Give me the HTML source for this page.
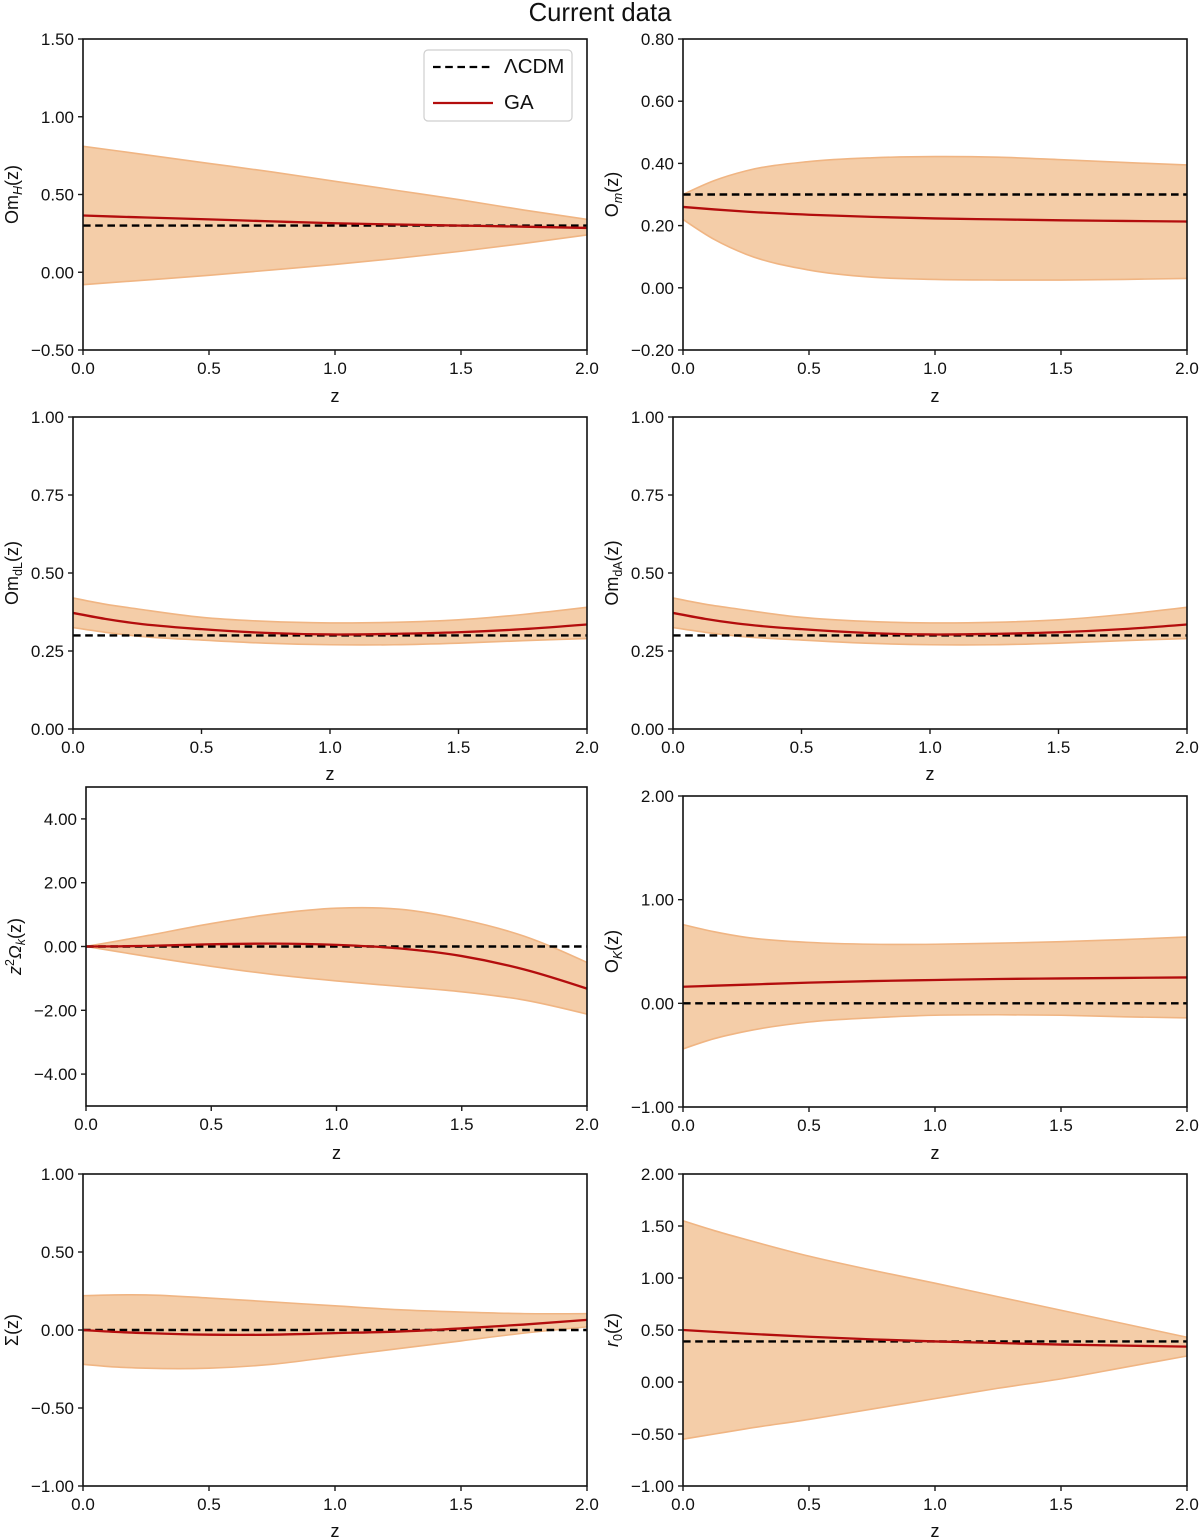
<!DOCTYPE html>
<html lang="en">
<head>
<meta charset="utf-8">
<title>Current data</title>
<style>
html,body{margin:0;padding:0;background:#fff;}
svg{display:block;font-family:"Liberation Sans",Arial,sans-serif;fill:#111;}
</style>
</head>
<body>
<svg id="figure" xmlns="http://www.w3.org/2000/svg" width="1200" height="1539" viewBox="0 0 1200 1539">
  <rect x="0" y="0" width="1200" height="1539" fill="#ffffff"/>
  <text x="600" y="21" font-size="25.7" text-anchor="middle">Current data</text>
</svg>
<script>
// Shared sample grid and ticks
const zValues = [0, 0.125, 0.25, 0.5, 0.75, 1, 1.25, 1.5, 1.75, 2];
const xTickValues = [0, 0.5, 1, 1.5, 2];

// Om_H(z)
const omHUpper = [0.81, 0.783, 0.755, 0.70, 0.645, 0.585, 0.525, 0.465, 0.40, 0.34];
const omHLower = [-0.08, -0.065, -0.05, -0.02, 0.015, 0.05, 0.09, 0.135, 0.185, 0.24];
const omHMean = [0.365, 0.358, 0.352, 0.34, 0.327, 0.315, 0.307, 0.30, 0.293, 0.285];
const omHLcdm = 0.30;
const omHTicks = [-0.5, 0, 0.5, 1, 1.5];

// O_m(z)
const omUpper = [0.30, 0.345, 0.376, 0.406, 0.418, 0.422, 0.42, 0.412, 0.403, 0.395];
const omLower = [0.22, 0.155, 0.108, 0.057, 0.034, 0.027, 0.025, 0.025, 0.027, 0.03];
const omMean = [0.26, 0.252, 0.245, 0.235, 0.228, 0.223, 0.22, 0.217, 0.215, 0.213];
const omLcdm = 0.30;
const omTicks = [-0.2, 0, 0.2, 0.4, 0.6, 0.8];

// Om_dL(z)
const omdLUpper = [0.42, 0.40, 0.385, 0.358, 0.345, 0.34, 0.342, 0.35, 0.367, 0.39];
const omdLLower = [0.325, 0.31, 0.298, 0.285, 0.275, 0.27, 0.27, 0.275, 0.283, 0.29];
const omdLMean = [0.372, 0.353, 0.338, 0.32, 0.308, 0.303, 0.305, 0.31, 0.32, 0.335];
const omdLLcdm = 0.30;
const omdLTicks = [0, 0.25, 0.5, 0.75, 1];

// Om_dA(z)
const omdAUpper = [0.42, 0.40, 0.385, 0.358, 0.345, 0.34, 0.342, 0.35, 0.367, 0.39];
const omdALower = [0.325, 0.31, 0.298, 0.285, 0.275, 0.27, 0.27, 0.275, 0.283, 0.29];
const omdAMean = [0.372, 0.353, 0.338, 0.32, 0.308, 0.303, 0.305, 0.31, 0.32, 0.335];
const omdALcdm = 0.30;
const omdATicks = [0, 0.25, 0.5, 0.75, 1];

// z^2 Omega_k(z)
const curvUpper = [0, 0.17, 0.35, 0.72, 1.02, 1.2, 1.17, 0.85, 0.32, -0.5];
const curvLower = [0, -0.16, -0.32, -0.62, -0.88, -1.08, -1.25, -1.42, -1.68, -2.12];
const curvMean = [0, 0.005, 0.02, 0.07, 0.09, 0.05, -0.06, -0.3, -0.72, -1.32];
const curvLcdm = 0;
const curvTicks = [-4, -2, 0, 2, 4];

// O_K(z)
const okUpper = [0.76, 0.69, 0.637, 0.588, 0.57, 0.57, 0.58, 0.595, 0.615, 0.64];
const okLower = [-0.44, -0.34, -0.27, -0.18, -0.14, -0.115, -0.11, -0.115, -0.13, -0.14];
const okMean = [0.16, 0.17, 0.18, 0.2, 0.215, 0.225, 0.235, 0.24, 0.245, 0.25];
const okLcdm = 0;
const okTicks = [-1, 0, 1, 2];

// Sigma(z)
const sigmaUpper = [0.22, 0.225, 0.225, 0.205, 0.18, 0.155, 0.13, 0.115, 0.105, 0.105];
const sigmaLower = [-0.22, -0.237, -0.245, -0.245, -0.22, -0.17, -0.12, -0.07, -0.02, 0.02];
const sigmaMean = [0, -0.012, -0.02, -0.03, -0.03, -0.02, -0.01, 0.01, 0.035, 0.065];
const sigmaLcdm = 0;
const sigmaTicks = [-1, -0.5, 0, 0.5, 1];

// r_0(z)
const r0Upper = [1.55, 1.455, 1.37, 1.21, 1.075, 0.95, 0.82, 0.69, 0.56, 0.43];
const r0Lower = [-0.55, -0.5, -0.45, -0.36, -0.26, -0.16, -0.06, 0.03, 0.14, 0.25];
const r0Mean = [0.50, 0.482, 0.465, 0.435, 0.41, 0.39, 0.375, 0.36, 0.35, 0.34];
const r0Lcdm = 0.39;
const r0Ticks = [-1, -0.5, 0, 0.5, 1, 1.5, 2];

const svgNS = 'http://www.w3.org/2000/svg';
const figure = document.getElementById('figure');

function make(parent, tag, attrs, content) {
  const node = document.createElementNS(svgNS, tag);
  Object.keys(attrs).forEach(function (key) { node.setAttribute(key, attrs[key]); });
  if (content !== undefined) node.textContent = content;
  parent.appendChild(node);
  return node;
}

function smoothPath(xs, ys, move) {
  const n = xs.length;
  const slopes = new Array(n);
  for (let i = 1; i < n - 1; i++) {
    const h0 = xs[i] - xs[i - 1];
    const h1 = xs[i + 1] - xs[i];
    const s0 = (ys[i] - ys[i - 1]) / h0;
    const s1 = (ys[i + 1] - ys[i]) / h1;
    slopes[i] = (s0 * h1 + s1 * h0) / (h0 + h1);
  }
  slopes[0] = (3 * (ys[1] - ys[0]) / (xs[1] - xs[0]) - slopes[1]) / 2;
  slopes[n - 1] = (3 * (ys[n - 1] - ys[n - 2]) / (xs[n - 1] - xs[n - 2]) - slopes[n - 2]) / 2;
  let d = (move ? 'M' : 'L') + xs[0].toFixed(2) + ' ' + ys[0].toFixed(2);
  for (let i = 0; i < n - 1; i++) {
    const h = (xs[i + 1] - xs[i]) / 3;
    d += 'C' + (xs[i] + h).toFixed(2) + ' ' + (ys[i] + slopes[i] * h).toFixed(2) + ' ' +
      (xs[i + 1] - h).toFixed(2) + ' ' + (ys[i + 1] - slopes[i + 1] * h).toFixed(2) + ' ' +
      xs[i + 1].toFixed(2) + ' ' + ys[i + 1].toFixed(2);
  }
  return d;
}

function tickText(value, digits) {
  const text = Math.abs(value).toFixed(digits);
  return value < 0 ? '\u2212' + text : text;
}

function drawPanel(p) {
  const group = make(figure, 'g', {});
  
  

  const scaleX = function (v) { return p.left + (v - 0) / 2 * (p.right - p.left); };
  const scaleY = function (v) { return p.bottom - (v - p.yMin) / (p.yMax - p.yMin) * (p.bottom - p.top); };
  const xs = zValues.map(scaleX);

  const upperYs = p.upper.map(scaleY);
  const lowerYs = p.lower.map(scaleY);
  const meanYs = p.mean.map(scaleY);
  const revXs = xs.slice().reverse();
  const revLower = lowerYs.slice().reverse();

  const band = make(group, 'path', {
    d: smoothPath(xs, upperYs, true) + smoothPath(revXs, revLower, false) + 'Z',
    fill: '#f4cda8', stroke: 'none'
  });
  
  

  const upperEdge = make(group, 'path', {
    d: smoothPath(xs, upperYs, true), fill: 'none', stroke: '#f0b583', 'stroke-width': 1.6
  });
  
  

  const lowerEdge = make(group, 'path', {
    d: smoothPath(xs, lowerYs, true), fill: 'none', stroke: '#f0b583', 'stroke-width': 1.6
  });
  
  

  const lcdmY = scaleY(p.lcdm);
  const lcdm = make(group, 'line', {
    x1: p.left, x2: p.right, y1: lcdmY, y2: lcdmY,
    stroke: '#000', 'stroke-width': 2.4, 'stroke-dasharray': '7.6 4.6'
  });
  
  

  const mean = make(group, 'path', {
    d: smoothPath(xs, meanYs, true), fill: 'none', stroke: '#b30d0d', 'stroke-width': 2.3
  });
  
  

  const frame = make(group, 'rect', {
    x: p.left, y: p.top, width: p.right - p.left, height: p.bottom - p.top,
    fill: 'none', stroke: '#111', 'stroke-width': 1.6
  });
  
  

  xTickValues.forEach(function (v) {
    const x = scaleX(v);
    const mark = make(group, 'line', {
      x1: x, x2: x, y1: p.bottom, y2: p.bottom + 5, stroke: '#1a1a1a', 'stroke-width': 1.4
    });
    
    
    const label = make(group, 'text', {
      x: x, y: p.bottom + 24, 'font-size': 17, 'text-anchor': 'middle'
    }, v.toFixed(1));
    
    
  });

  p.ticks.forEach(function (v) {
    const y = scaleY(v);
    const mark = make(group, 'line', {
      x1: p.left - 5, x2: p.left, y1: y, y2: y, stroke: '#1a1a1a', 'stroke-width': 1.4
    });
    
    
    const label = make(group, 'text', {
      x: p.left - 9, y: y + 6, 'font-size': 17, 'text-anchor': 'end'
    }, tickText(v, 2));
    
    
  });

  const xTitle = make(group, 'text', {
    x: (p.left + p.right) / 2, y: p.xTitleY, 'font-size': 18, 'text-anchor': 'middle'
  }, 'z');
  
  

  const yTitle = make(group, 'text', {
    transform: 'translate(' + p.yTitleX + ' ' + (p.top + p.bottom) / 2 + ') rotate(-90)',
    'font-size': 18, 'text-anchor': 'middle'
  });
  
  
  p.titleParts.forEach(function (part) {
    const attrs = {};
    if (part.italic) attrs['font-style'] = 'italic';
    if (part.sub) { attrs['font-size'] = 12.5; attrs.dy = 4; }
    if (part.sup) { attrs['font-size'] = 12.5; attrs.dy = -7; }
    if (part.after) attrs.dy = part.after;
    make(yTitle, 'tspan', attrs, part.text);
  });
}

drawPanel({ id: 'om-h', left: 83, right: 587, top: 39, bottom: 350, yMin: -0.5, yMax: 1.5,
  upper: omHUpper, lower: omHLower, mean: omHMean, lcdm: omHLcdm, ticks: omHTicks,
  xTitleY: 402, yTitleX: 18,
  titleParts: [{ text: 'Om' }, { text: 'H', italic: true, sub: true }, { text: '(z)', after: -4 }] });

drawPanel({ id: 'o-m', left: 683, right: 1187, top: 39, bottom: 350, yMin: -0.2, yMax: 0.8,
  upper: omUpper, lower: omLower, mean: omMean, lcdm: omLcdm, ticks: omTicks,
  xTitleY: 402, yTitleX: 618,
  titleParts: [{ text: 'O' }, { text: 'm', italic: true, sub: true }, { text: '(z)', after: -4 }] });

drawPanel({ id: 'om-dl', left: 73, right: 587, top: 417, bottom: 729, yMin: 0, yMax: 1,
  upper: omdLUpper, lower: omdLLower, mean: omdLMean, lcdm: omdLLcdm, ticks: omdLTicks,
  xTitleY: 780, yTitleX: 18,
  titleParts: [{ text: 'Om' }, { text: 'dL', sub: true }, { text: '(z)', after: -4 }] });

drawPanel({ id: 'om-da', left: 673, right: 1187, top: 417, bottom: 729, yMin: 0, yMax: 1,
  upper: omdAUpper, lower: omdALower, mean: omdAMean, lcdm: omdALcdm, ticks: omdATicks,
  xTitleY: 780, yTitleX: 618,
  titleParts: [{ text: 'Om' }, { text: 'dA', sub: true }, { text: '(z)', after: -4 }] });

drawPanel({ id: 'curvature', left: 86, right: 587, top: 787, bottom: 1106, yMin: -5, yMax: 5,
  upper: curvUpper, lower: curvLower, mean: curvMean, lcdm: curvLcdm, ticks: curvTicks,
  xTitleY: 1159, yTitleX: 21,
  titleParts: [{ text: 'z', italic: true }, { text: '2', sup: true }, { text: '\u03A9', italic: true, after: 7 }, { text: 'k', italic: true, sub: true }, { text: '(z)', after: -4 }] });

drawPanel({ id: 'o-k', left: 683, right: 1187, top: 796, bottom: 1107, yMin: -1, yMax: 2,
  upper: okUpper, lower: okLower, mean: okMean, lcdm: okLcdm, ticks: okTicks,
  xTitleY: 1159, yTitleX: 618,
  titleParts: [{ text: 'O' }, { text: 'K', italic: true, sub: true }, { text: '(z)', after: -4 }] });

drawPanel({ id: 'sigma', left: 83, right: 587, top: 1174, bottom: 1486, yMin: -1, yMax: 1,
  upper: sigmaUpper, lower: sigmaLower, mean: sigmaMean, lcdm: sigmaLcdm, ticks: sigmaTicks,
  xTitleY: 1537, yTitleX: 18,
  titleParts: [{ text: '\u03A3(z)' }] });

drawPanel({ id: 'r-0', left: 683, right: 1187, top: 1174, bottom: 1486, yMin: -1, yMax: 2,
  upper: r0Upper, lower: r0Lower, mean: r0Mean, lcdm: r0Lcdm, ticks: r0Ticks,
  xTitleY: 1537, yTitleX: 618,
  titleParts: [{ text: 'r', italic: true }, { text: '0', sub: true }, { text: '(z)', after: -4 }] });

// Legend in the first panel
const legend = make(figure, 'g', {});



const legendBox = make(legend, 'rect', {
  x: 424, y: 50, width: 148, height: 71, rx: 4, fill: '#fff', stroke: '#cfcfcf', 'stroke-width': 1.2
});



const legendDash = make(legend, 'line', {
  x1: 433, x2: 493, y1: 67, y2: 67, stroke: '#000', 'stroke-width': 2.2, 'stroke-dasharray': '7.6 4.6'
});



const legendLcdm = make(legend, 'text', { x: 504, y: 73, 'font-size': 20.5 }, '\u039BCDM');



const legendSolid = make(legend, 'line', {
  x1: 433, x2: 493, y1: 103, y2: 103, stroke: '#b30d0d', 'stroke-width': 2.2
});



const legendGa = make(legend, 'text', { x: 504, y: 109, 'font-size': 20.5 }, 'GA');


</script>
</body>
</html>
